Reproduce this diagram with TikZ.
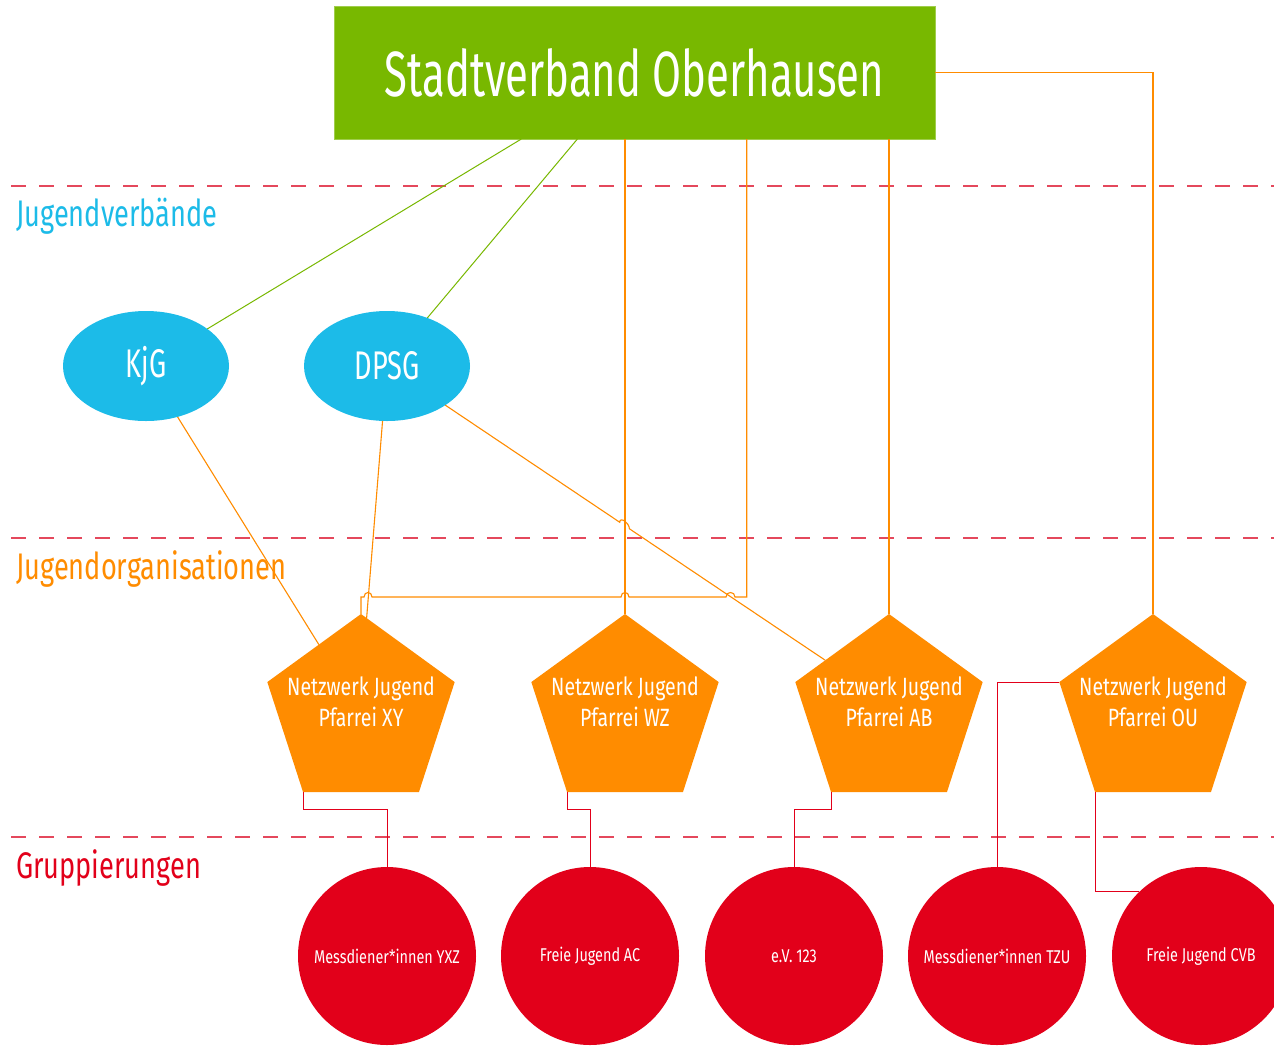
\documentclass[tikz,border=0pt]{standalone}
\usepackage{fontspec}
\setmainfont{Fira Sans}[FakeStretch=0.68]
\newfontfamily\titlefont{Fira Sans}[FakeStretch=0.655]
\newfontfamily\labelfont{Fira Sans}[FakeStretch=0.735]
\newfontfamily\smallfont{Fira Sans}[FakeStretch=0.78]
\usetikzlibrary{shapes.geometric,calc}
\definecolor{cgreen}{HTML}{78B800}
\definecolor{ccyan}{HTML}{1CBBE8}
\definecolor{corange}{HTML}{FF8C00}
\definecolor{cred}{HTML}{E2001A}
\definecolor{cdash}{HTML}{E4485C}
\tikzset{
  svbox/.style={rectangle, fill=cgreen, draw=cgreen!70!white, line width=0.8pt, minimum width=601pt, minimum height=133pt, inner sep=0pt, outer sep=0pt, text=white, font=\titlefont\fontsize{64}{70}\selectfont},
  verband/.style={ellipse, fill=ccyan, minimum width=166pt, minimum height=110pt, inner sep=0pt, outer sep=0pt, text=white, font=\fontsize{40}{44}\selectfont},
  netz/.style={regular polygon, regular polygon sides=5, fill=corange, minimum size=197pt, inner sep=0pt, outer sep=0pt},
  netztext/.style={align=center, text=white, inner sep=0pt, font=\smallfont\fontsize{25}{31}\selectfont},
  gruppe/.style={circle, fill=cred, minimum size=178pt, inner sep=0pt, outer sep=0pt, text=white, font=\smallfont\fontsize{18.5}{20}\selectfont},
  levellabel/.style={anchor=base west, inner sep=0pt, font=\labelfont\fontsize{37}{40}\selectfont},
  sepline/.style={cdash, line width=1.2pt, dash pattern=on 15pt off 13pt},
  gline/.style={cgreen, line width=1pt},
  oline/.style={corange, line width=1.1pt},
  rline/.style={cred, line width=1pt},
}
\begin{document}
\begin{tikzpicture}[x=1pt,y=-1pt]
\clip (0,0) rectangle (1274,1045);
\fill[white] (0,0) rectangle (1274,1045);

% separators
\draw[sepline] (11,186) -- (1274,186);
\draw[sepline] (11,538) -- (1274,538);
\draw[sepline] (11,837) -- (1274,837);

% level labels
\node[levellabel, text=ccyan] (lv1) at (16,226) {Jugendverbände};
\node[levellabel, text=corange] (lv2) at (16,579) {Jugendorganisationen};
\node[levellabel, text=cred] (lv3) at (16,878) {Gruppierungen};

% nodes
\node[svbox] (sv) at (634.5,72.5) {Stadtverband Oberhausen};
\node[verband] (kjg) at (146,366) {KjG};
\node[verband] (dpsg) at (387,366) {DPSG};

\node[netz] (pxy) at (361,712.5) {};
\node[netz] (pwz) at (625,712.5) {};
\node[netz] (pab) at (889,712.5) {};
\node[netz] (pou) at (1153,712.5) {};
\node[netztext] (txy) at ($(pxy)+(0,-11)$) {Netzwerk Jugend\\Pfarrei XY};
\node[netztext] (twz) at ($(pwz)+(0,-11)$) {Netzwerk Jugend\\Pfarrei WZ};
\node[netztext] (tab) at ($(pab)+(0,-11)$) {Netzwerk Jugend\\Pfarrei AB};
\node[netztext] (tou) at ($(pou)+(0,-11)$) {Netzwerk Jugend\\Pfarrei OU};

\node[gruppe] (g1) at (387,956) {Messdiener*innen YXZ};
\node[gruppe] (g2) at (590,956) {Freie Jugend AC};
\node[gruppe] (g3) at (794,956) {e.V. 123};
\node[gruppe] (g4) at (997,956) {Messdiener*innen TZU};
\node[gruppe] (g5) at (1201,956) {Freie Jugend CVB};

% green connectors
\draw[gline] ($(sv.south west)!0.3117!(sv.south east)$) -- (kjg);
\draw[gline] ($(sv.south west)!0.405!(sv.south east)$) -- (dpsg);

% orange connectors
\coordinate (dxy) at ($(pxy.corner 1)!0.06!(pxy.corner 5)$);
\coordinate (dab) at ($(pab.corner 1)!0.68!(pab.corner 2)$);
\coordinate (b0) at ($(sv.south west)!0.6867!(sv.south east)$);
\draw[oline] (pwz.corner 1 |- sv.south) -- (pwz.corner 1);
\draw[oline] (pab.corner 1 |- sv.south) -- (pab.corner 1);
\draw[oline] (sv.east) -| (pou.corner 1);
\draw[oline] (kjg) -- (pxy);
\draw[oline] (dpsg) -- (dxy);
\draw[oline] (dpsg) -- ($(dpsg)!0.531!(dab)$) .. controls +(0,-6) and +(0,-6) .. ($(dpsg)!0.553!(dab)$) -- (dab);
\draw[oline] (b0) -- (b0 |- 0,597) -- (735,597) .. controls +(0,-6) and +(0,-6) .. (726,597)
  -- (629,597) .. controls +(0,-6) and +(0,-6) .. (621,597)
  -- (372,597) .. controls +(0,-6) and +(0,-6) .. (364,597)
  -- (pxy.corner 1 |- 0,597) -- (pxy.corner 1);

% red connectors
\draw[rline] (pxy.corner 3) -- ++(0,17) -| (g1.north);
\draw[rline] (pwz.corner 3) -- ++(0,17) -| (g2.north);
\draw[rline] (pab.corner 3) -- ++(0,17) -| (g3.north);
\draw[rline] (pou.corner 2) -| (g4.north);
\draw[rline] (pou.corner 3) |- (g5.134);
\end{tikzpicture}
\end{document}
